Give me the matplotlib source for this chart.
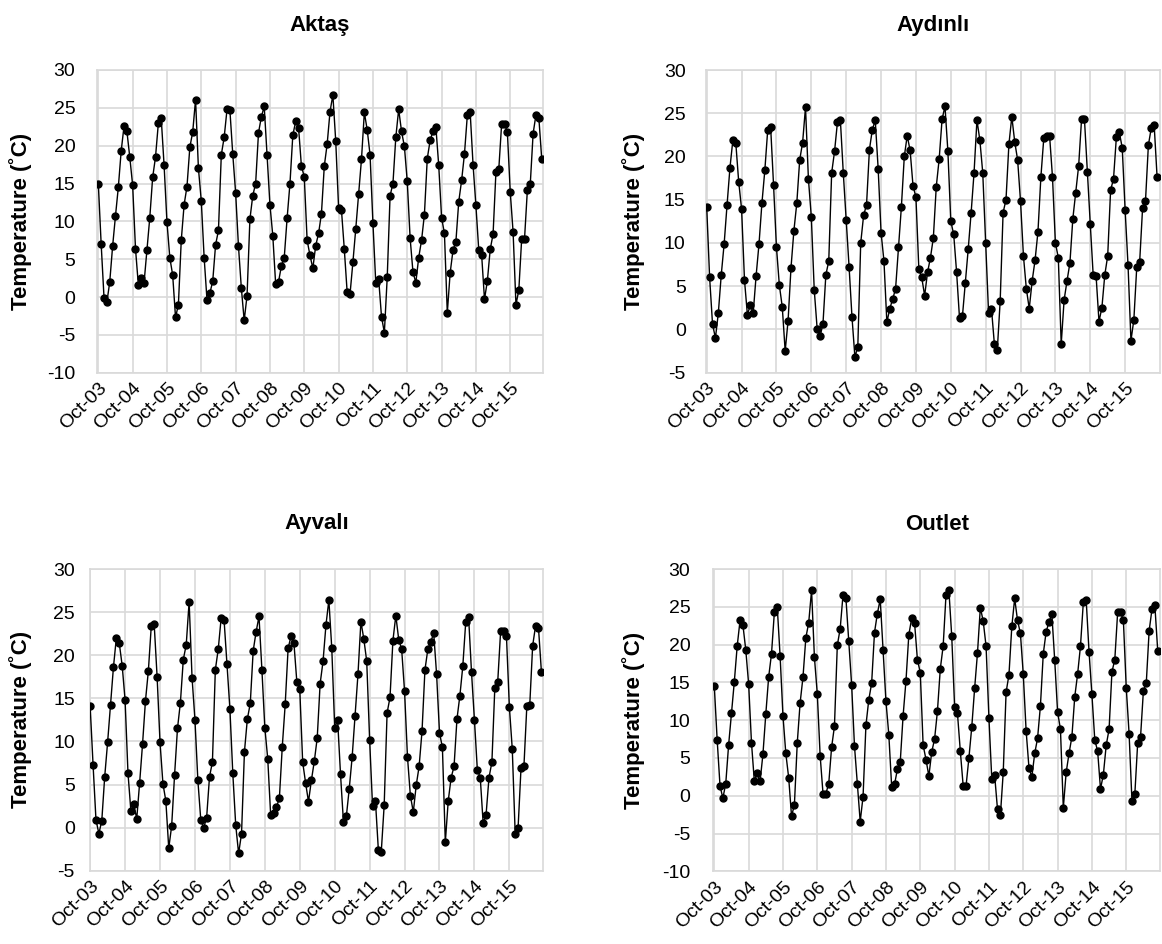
import matplotlib
matplotlib.use('Agg')
import matplotlib.pyplot as plt
import numpy as np

plt.rcParams['font.family'] = ['Liberation Sans', 'DejaVu Sans']
plt.rcParams['axes.unicode_minus'] = False

tick_labels = ["Oct-03", "Oct-04", "Oct-05", "Oct-06", "Oct-07", "Oct-08", "Oct-09",
               "Oct-10", "Oct-11", "Oct-12", "Oct-13", "Oct-14", "Oct-15"]

aktas = [15.0, 7.0, -0.1, -0.7, 2.0, 6.7, 10.7, 14.5, 19.3, 22.6, 21.9, 18.5,
         14.8, 6.4, 1.6, 2.5, 1.9, 6.2, 10.5, 15.8, 18.5, 23.0, 23.6, 17.4,
         9.9, 5.2, 2.9, -2.7, -1.0, 7.5, 12.2, 14.6, 19.8, 21.8, 26.1, 17.0,
         12.7, 5.2, -0.4, 0.5, 2.1, 6.9, 8.8, 18.8, 21.1, 24.8, 24.7, 18.9,
         13.8, 6.7, 1.2, -3.1, 0.2, 10.3, 13.4, 15.0, 21.7, 23.8, 25.2, 18.8,
         12.2, 8.1, 1.7, 2.0, 4.1, 5.2, 10.4, 15.0, 21.4, 23.2, 22.4, 17.3,
         15.9, 7.5, 5.5, 3.8, 6.8, 8.4, 11.0, 17.3, 20.2, 24.5, 26.7, 20.6,
         11.8, 11.5, 6.3, 0.6, 0.4, 4.6, 9.0, 13.6, 18.2, 24.4, 22.1, 18.8,
         9.8, 1.8, 2.4, -2.6, -4.7, 2.6, 13.4, 15.0, 21.1, 24.8, 21.9, 19.9,
         15.3, 7.8, 3.3, 1.9, 5.2, 7.5, 10.9, 18.3, 20.7, 21.9, 22.5, 17.4,
         10.5, 8.4, -2.1, 3.2, 6.2, 7.3, 12.6, 15.4, 18.9, 24.0, 24.4, 17.5,
         12.1, 6.2, 5.6, -0.3, 2.1, 6.3, 8.3, 16.5, 16.9, 22.9, 22.9, 21.8,
         13.9, 8.6, -1.0, 0.9, 7.7, 7.7, 14.2, 14.9, 21.6, 24.1, 23.7, 18.3]

aydinli = [14.1, 6.0, 0.6, -1.0, 1.9, 6.3, 9.9, 14.4, 18.7, 21.9, 21.6, 17.1,
           13.9, 5.7, 1.7, 2.8, 1.9, 6.2, 9.9, 14.6, 18.4, 23.1, 23.4, 16.7,
           9.5, 5.1, 2.6, -2.5, 1.0, 7.1, 11.4, 14.6, 19.6, 21.6, 25.7, 17.4,
           13.0, 4.6, 0.1, -0.8, 0.6, 6.3, 7.9, 18.1, 20.6, 24.0, 24.2, 18.1,
           12.7, 7.2, 1.4, -3.2, -2.0, 10.0, 13.2, 14.4, 20.8, 23.1, 24.2, 18.6,
           11.2, 7.9, 0.8, 2.4, 3.5, 4.7, 9.5, 14.2, 20.0, 22.4, 20.7, 16.6,
           15.3, 7.0, 6.0, 3.9, 6.6, 8.3, 10.6, 16.5, 19.7, 24.3, 25.8, 20.6,
           12.5, 11.0, 6.6, 1.3, 1.5, 5.4, 9.3, 13.5, 18.1, 24.2, 21.9, 18.1,
           10.0, 1.9, 2.4, -1.7, -2.4, 3.3, 13.5, 15.0, 21.4, 24.6, 21.7, 19.6,
           14.8, 8.5, 4.7, 2.4, 5.6, 8.0, 11.3, 17.6, 22.1, 22.4, 22.4, 17.6,
           10.0, 8.3, -1.7, 3.4, 5.6, 7.7, 12.8, 15.8, 18.9, 24.3, 24.3, 18.2,
           12.2, 6.3, 6.2, 0.9, 2.5, 6.3, 8.5, 16.1, 17.4, 22.3, 22.8, 21.0,
           13.8, 7.4, -1.3, 1.1, 7.2, 7.8, 14.0, 14.8, 21.3, 23.3, 23.6, 17.6]

ayvali = [14.1, 7.3, 0.9, -0.7, 0.8, 5.9, 9.9, 14.2, 18.6, 22.0, 21.4, 18.8,
          14.8, 6.3, 1.9, 2.7, 1.0, 5.2, 9.7, 14.7, 18.2, 23.4, 23.6, 17.5,
          9.9, 5.1, 3.1, -2.4, 0.2, 6.1, 11.5, 14.5, 19.5, 21.2, 26.2, 17.4,
          12.5, 5.5, 0.9, 0.0, 1.1, 5.9, 7.6, 18.3, 20.7, 24.3, 24.1, 19.0,
          13.8, 6.3, 0.3, -3.0, -0.7, 8.8, 12.6, 14.4, 20.5, 22.7, 24.5, 18.3,
          11.6, 8.0, 1.5, 1.7, 2.4, 3.4, 9.4, 14.3, 20.8, 22.2, 21.4, 16.9,
          16.1, 7.6, 5.2, 3.0, 5.5, 7.7, 10.4, 16.7, 19.3, 23.5, 26.4, 20.8,
          11.6, 12.5, 6.2, 0.7, 1.3, 4.5, 8.2, 13.0, 17.8, 23.9, 21.9, 19.3,
          10.2, 2.5, 3.1, -2.6, -2.8, 2.6, 13.3, 15.1, 21.7, 24.6, 21.8, 20.7,
          15.8, 8.2, 3.7, 1.8, 4.9, 7.1, 11.2, 18.3, 20.7, 21.5, 22.6, 17.8,
          11.0, 9.3, -1.7, 3.1, 5.8, 7.1, 12.6, 15.3, 18.7, 23.8, 24.4, 18.0,
          12.5, 6.7, 5.8, 0.5, 1.5, 5.8, 7.6, 16.2, 16.9, 22.8, 22.8, 22.2,
          14.0, 9.1, -0.7, 0.0, 6.9, 7.1, 14.1, 14.2, 21.1, 23.4, 23.2, 18.1]

outlet = [14.5, 7.4, 1.3, -0.3, 1.6, 6.7, 10.9, 15.1, 19.8, 23.2, 22.6, 19.3,
          14.8, 7.0, 1.9, 3.0, 1.9, 5.5, 10.8, 15.7, 18.8, 24.3, 25.0, 18.5,
          10.6, 5.6, 2.4, -2.7, -1.2, 7.0, 12.3, 15.7, 20.9, 22.9, 27.2, 18.3,
          13.5, 5.3, 0.3, 0.3, 1.6, 6.4, 9.2, 19.9, 22.1, 26.6, 26.2, 20.5,
          14.7, 6.6, 1.6, -3.4, -0.1, 9.3, 12.7, 14.9, 21.6, 24.1, 26.0, 19.3,
          12.5, 8.1, 1.2, 1.5, 3.5, 4.5, 10.6, 15.2, 21.3, 23.5, 22.9, 18.0,
          16.3, 6.7, 4.8, 2.6, 5.8, 7.5, 11.2, 16.8, 19.8, 26.6, 27.2, 21.1,
          11.8, 10.9, 5.9, 1.3, 1.3, 5.0, 9.1, 14.2, 18.9, 24.9, 23.1, 19.8,
          10.3, 2.2, 2.7, -1.8, -2.6, 3.1, 13.7, 16.0, 22.4, 26.1, 23.2, 21.5,
          16.1, 8.6, 3.7, 2.5, 5.6, 7.6, 11.9, 18.8, 21.7, 23.0, 24.0, 17.9,
          11.1, 8.8, -1.6, 3.1, 5.6, 7.8, 13.1, 16.1, 19.8, 25.6, 25.9, 19.0,
          13.4, 7.4, 5.9, 0.9, 2.8, 6.7, 8.8, 16.4, 18.0, 24.3, 24.3, 23.2,
          14.3, 8.2, -0.7, 0.2, 7.0, 7.8, 13.9, 14.9, 21.8, 24.7, 25.2, 19.2]

titles = ["Aktaş", "Aydınlı", "Ayvalı", "Outlet"]
series = [aktas, aydinli, ayvali, outlet]
ylims = [(-10, 30), (-5, 30), (-5, 30), (-10, 30)]

W, H = 1162, 944
# pixel boxes: left, right, top, bottom
boxes = [(97.3, 542.7, 70, 372.7), (705.7, 1160, 70, 372.6),
         (90, 542.7, 569, 870.7), (713.3, 1160, 569, 871.4)]
xlims = [(-0.35, 155.35), (-0.35, 156.0), (-0.05, 155.45), (-0.35, 155.8)]
ypads = [22, 20, 15, 23]
ylabel_x = [21, 634, 21, 634]

fig = plt.figure(figsize=(W / 100, H / 100), dpi=100)
grid_c = '#d9d9d9'
for k in range(4):
    l, r, t, b = boxes[k]
    ax = fig.add_axes([l / W, 1 - b / H, (r - l) / W, (b - t) / H])
    vals = series[k]
    x = np.arange(len(vals))
    ax.plot(x, vals, color='black', lw=1.0, marker='o', markersize=5, zorder=3)
    ax.set_xlim(*xlims[k])
    ax.set_ylim(*ylims[k])
    ax.set_yticks(np.arange(ylims[k][0], ylims[k][1] + 1, 5))
    ax.set_xticks(np.arange(0, 12 * len(tick_labels), 12))
    ax.set_xticklabels(tick_labels, rotation=45, ha='right', rotation_mode='anchor')
    ax.grid(True, color=grid_c, lw=1.2, zorder=0)
    ax.set_axisbelow(True)
    for s in ax.spines.values():
        s.set_color(grid_c)
        s.set_linewidth(1.2)
    ax.tick_params(axis='both', length=0, labelsize=14, colors='black')
    ax.tick_params(axis='y', pad=ypads[k] * 0.72)
    ax.tick_params(axis='x', labelsize=14, pad=5)
    fig.text((l + r) / 2 / W, 1 - (t - 45) / H, titles[k], ha='center', va='center',
             fontsize=16, fontweight='bold')
    fig.text(ylabel_x[k] / W, 1 - (t + b) / 2 / H, "Temperature (˚C)", rotation=90,
             ha='center', va='center', fontsize=16, fontweight='bold')

fig.savefig('out.png', dpi=100)
